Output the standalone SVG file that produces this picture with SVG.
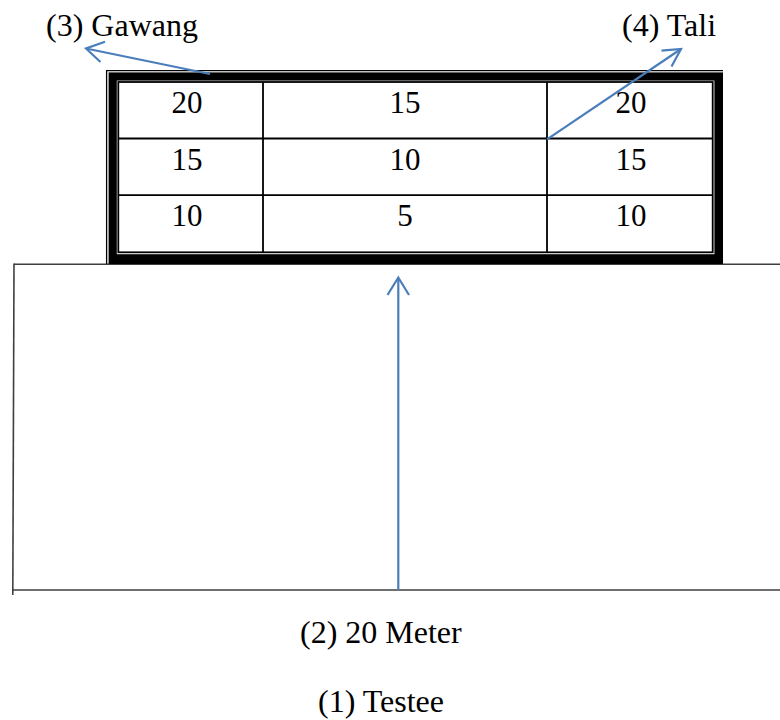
<svg xmlns="http://www.w3.org/2000/svg" width="780" height="720" viewBox="0 0 780 720">
  <style>
    .lbl { font-family: "Liberation Serif", "Times New Roman", serif; font-size: 32px; fill: #000; }
    .num { font-family: "Liberation Serif", "Times New Roman", serif; font-size: 31px; fill: #000; text-anchor: middle; }
    .grid { fill: none; stroke: #000; stroke-width: 1.8; }
    .edge { fill: none; stroke: #3f3f3f; stroke-width: 1.6; }
    .conn { fill: none; stroke: #4a7ebb; stroke-width: 2.2; }
    .head { fill: none; stroke: #4a7ebb; stroke-width: 2.2; stroke-linejoin: miter; }
  </style>
  <rect width="780" height="720" fill="#fff"/>

  <!-- testing field -->
  <g id="field">
    <path class="edge" d="M14,264.3 H780"/>
    <path class="edge" d="M14,263.5 L12.8,595"/>
    <path class="edge" d="M12.8,590 H780"/>
  </g>

  <!-- target board: thin-thick double frame with 3x3 score grid -->
  <g id="board">
    <path d="M106.6,264 V70.6 H723" fill="none" stroke="#000" stroke-width="1.3"/>
    <rect x="108.6" y="72.4" width="614.4" height="191.6" fill="#000"/>
    <rect x="116.8" y="80.6" width="597.6" height="173.6" fill="#fff"/>
    <rect class="grid" x="118.3" y="82" width="594.4" height="170.3"/>
    <path class="grid" d="M263,82 V252.3 M547,82 V252.3 M118.3,138.5 H712.7 M118.3,195.2 H712.7"/>
    <text class="num" x="187" y="113">20</text>
    <text class="num" x="405" y="113">15</text>
    <text class="num" x="631" y="113">20</text>
    <text class="num" x="187" y="169.5">15</text>
    <text class="num" x="405" y="169.5">10</text>
    <text class="num" x="631" y="169.5">15</text>
    <text class="num" x="187" y="225.5">10</text>
    <text class="num" x="405" y="225.5">5</text>
    <text class="num" x="631" y="225.5">10</text>
  </g>

  <g id="label-gawang"><text class="lbl" x="46" y="36">(3) Gawang</text></g>
  <g id="label-tali"><text class="lbl" x="622" y="36">(4) Tali</text></g>
  <g id="label-jarak"><text class="lbl" x="300" y="643">(2) 20 Meter</text></g>
  <g id="label-testee"><text class="lbl" x="318" y="712">(1) Testee</text></g>

  <!-- pointer arrows -->
  <g id="connectors">
    <path class="conn" d="M210,74 L86,48.5"/>
    <path class="head" d="M105,41.7 L86,48.5 L100.5,62"/>
    <path class="conn" d="M547,139.3 L681,49"/>
    <path class="head" d="M661.5,50.7 L681,49 L671.5,66.5"/>
    <path class="conn" d="M398.3,590 V278"/>
    <path class="head" d="M387.5,295 L398.3,277.5 L409,295"/>
  </g>
</svg>
